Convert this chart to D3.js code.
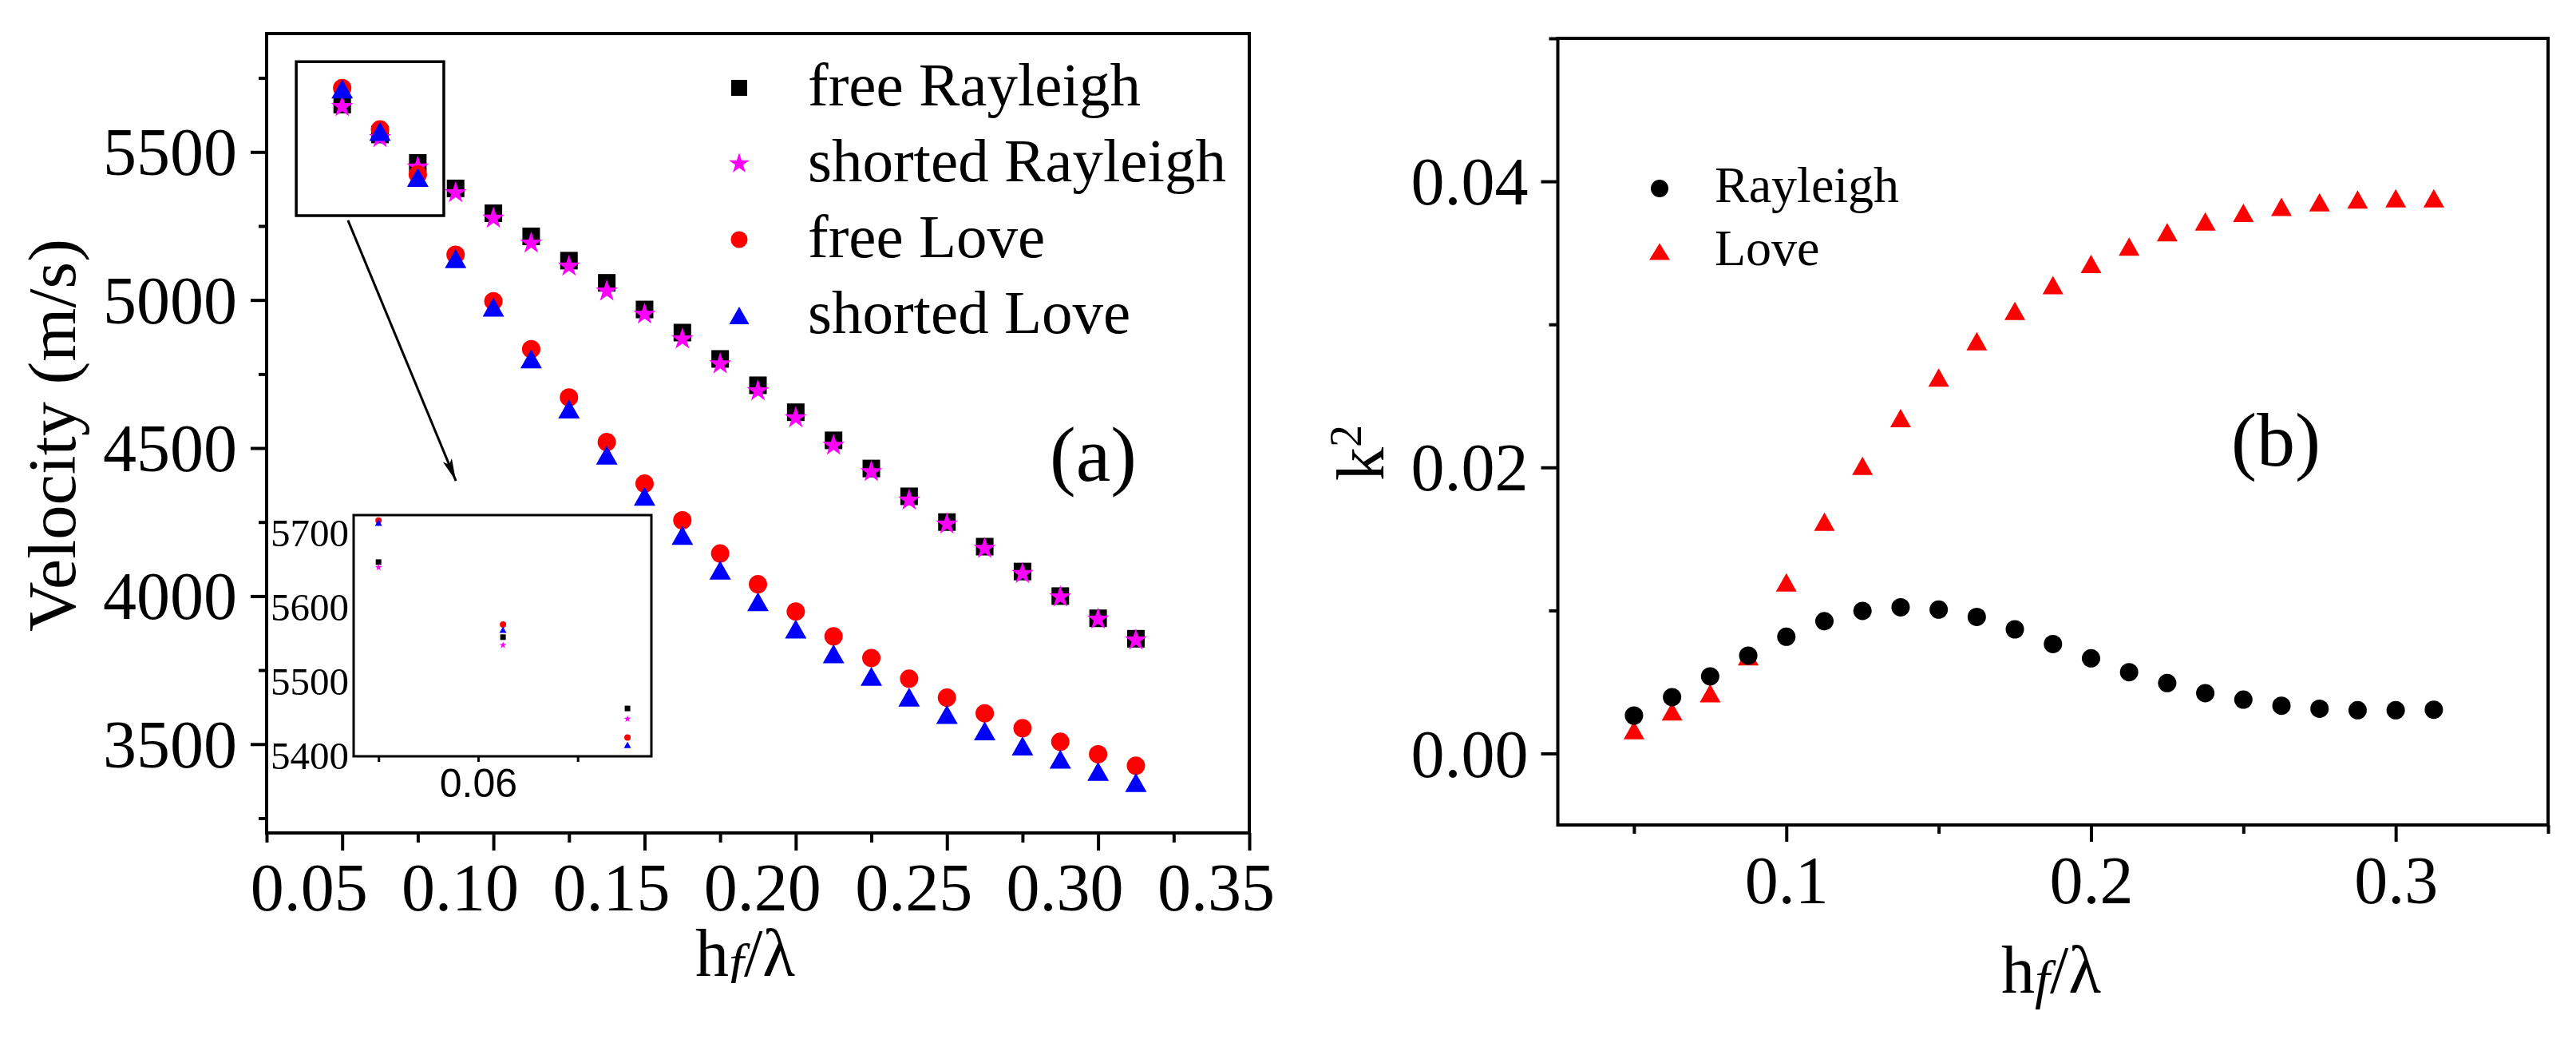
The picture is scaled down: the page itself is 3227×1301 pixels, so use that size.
<!DOCTYPE html>
<html>
<head>
<meta charset="utf-8">
<script src="https://cdn.jsdelivr.net/npm/d3@7"></script>
<style>
  html, body { margin: 0; padding: 0; background: #fff; }
  svg { display: block; }
</style>
</head>
<body>
<svg id="chart" width="3227" height="1301" font-family="Liberation Serif, Times New Roman, serif"></svg>
<script>
// hf / lambda sample points (both panels)
const hRatio = [0.05, 0.0625, 0.075, 0.0875, 0.1, 0.1125, 0.125, 0.1375, 0.15, 0.1625, 0.175,
  0.1875, 0.2, 0.2125, 0.225, 0.2375, 0.25, 0.2625, 0.275, 0.2875, 0.3, 0.3125];

// panel (a): phase velocity, m/s
const freeRayleigh = [5660, 5559, 5463, 5377, 5293, 5215, 5133, 5058, 4968, 4890, 4801,
  4712, 4621, 4526, 4431, 4337, 4250, 4167, 4083, 4000, 3925, 3856];
const shortedRayleigh = [5653, 5548, 5449, 5362, 5276, 5192, 5114, 5030, 4952, 4868, 4784,
  4693, 4602, 4509, 4420, 4324, 4243, 4161, 4076, 3997, 3922, 3851];
const freeLove = [5716, 5576, 5424, 5153, 4996, 4834, 4671, 4520, 4380, 4256, 4144,
  4040, 3948, 3864, 3791, 3721, 3657, 3604, 3554, 3508, 3466, 3427];
const shortedLove = [5713, 5569, 5414, 5140, 4976, 4801, 4632, 4476, 4337, 4205, 4088,
  3981, 3889, 3805, 3729, 3659, 3600, 3545, 3494, 3449, 3408, 3370];

// panel (b): coupling coefficient k^2
const k2Rayleigh = [0.00265, 0.00394, 0.00539, 0.00684, 0.00816, 0.00925, 0.00997, 0.01022,
  0.01006, 0.00955, 0.00868, 0.00765, 0.00665, 0.00568, 0.00492, 0.00422, 0.00376, 0.00334,
  0.00313, 0.00302, 0.00302, 0.00306];
const k2Love = [0.00163, 0.00294, 0.00422, 0.0068, 0.01196, 0.0162, 0.02011, 0.02345,
  0.02628, 0.02883, 0.03094, 0.03274, 0.03423, 0.03544, 0.03645, 0.0372, 0.0378, 0.03822,
  0.03854, 0.03873, 0.03882, 0.03882];

// ticks
const velTicks = [3500, 4000, 4500, 5000, 5500];
const velMinorTicks = [3250, 3750, 4250, 4750, 5250, 5750];
const hTicksA = [0.05, 0.10, 0.15, 0.20, 0.25, 0.30, 0.35];
const hMinorTicksA = [0.025, 0.075, 0.125, 0.175, 0.225, 0.275, 0.325];
const insetVelTicks = [5400, 5500, 5600, 5700];
const insetHTicks = [0.05, 0.06, 0.07];
const insetHLabels = [0.06];
const k2Ticks = [0, 0.02, 0.04];
const k2MinorTicks = [0.01, 0.03, 0.05];
const hTicksB = [0.1, 0.2, 0.3];
const hMinorTicksB = [0.05, 0.15, 0.25, 0.35];

const SERIF = "Liberation Serif, Times New Roman, serif";
const svg = d3.select("#chart");
svg.append("rect").attr("width", 3227).attr("height", 1301).attr("fill", "#fff");
const defs = svg.append("defs");

// marker paths, s = outer width in px
function marker(shape, s, h) {
  if (shape === "square") return d3.symbol(d3.symbolSquare, s * s)();
  if (shape === "circle") return d3.symbol(d3.symbolCircle, Math.PI * s * s / 4)();
  if (shape === "star") {
    const r = s / 1.902;
    return d3.symbol(d3.symbolStar, r * r / 0.8908130915)();
  }
  // triangle centred on its bounding box
  h = h || s * 0.88;
  return `M0,${-h / 2}L${s / 2},${h / 2}L${-s / 2},${h / 2}Z`;
}

function styleAxis(g, size, family) {
  g.attr("font-family", family || SERIF).attr("font-size", size);
  g.select(".domain").remove();
  g.selectAll("line").attr("stroke", "#000").attr("stroke-width", 4);
  g.selectAll("text").attr("fill", "#000");
}

/* ---------------- panel (a) ---------------- */
const xA = d3.scaleLinear().domain([0.025, 0.35]).range([334, 1565]);
const yA = d3.scaleLinear().domain([3200, 5900]).range([1043, 42]);

const seriesA = [
  { name: "free Rayleigh", values: freeRayleigh, shape: "square", color: "#000000", size: 22 },
  { name: "shorted Rayleigh", values: shortedRayleigh, shape: "star", color: "#ff00ff", size: 28 },
  { name: "free Love", values: freeLove, shape: "circle", color: "#ff0000", size: 23 },
  { name: "shorted Love", values: shortedLove, shape: "triangle", color: "#0000ff", size: 27 }
];

const gA = svg.append("g");

// x axis (labels sit a little left of their ticks, as in the original)
gA.append("g").attr("transform", `translate(0,${yA(3200)})`)
  .call(d3.axisBottom(xA).tickValues(hTicksA).tickSize(22).tickFormat(d3.format(".2f")))
  .call(g => styleAxis(g, 84))
  .selectAll("text").attr("y", 97).attr("dy", null).attr("x", -42);
gA.append("g").attr("transform", `translate(0,${yA(3200)})`)
  .call(d3.axisBottom(xA).tickValues(hMinorTicksA).tickSize(12).tickFormat(""))
  .call(g => styleAxis(g, 84));

// y axis
gA.append("g").attr("transform", `translate(${xA(0.025)},0)`)
  .call(d3.axisLeft(yA).tickValues(velTicks).tickSize(20).tickFormat(d3.format("d")))
  .call(g => styleAxis(g, 84))
  .selectAll("text").attr("x", -37).attr("dy", "0.34em");
gA.append("g").attr("transform", `translate(${xA(0.025)},0)`)
  .call(d3.axisLeft(yA).tickValues(velMinorTicks).tickSize(10).tickFormat(""))
  .call(g => styleAxis(g, 84));

// frame
gA.append("rect")
  .attr("x", xA(0.025)).attr("y", yA(5900))
  .attr("width", xA(0.35) - xA(0.025)).attr("height", yA(3200) - yA(5900))
  .attr("fill", "none").attr("stroke", "#000").attr("stroke-width", 4);

// points
seriesA.forEach(s => {
  gA.append("g").selectAll("path")
    .data(hRatio.map((h, i) => ({ h, v: s.values[i] })))
    .join("path")
    .attr("d", marker(s.shape, s.size))
    .attr("transform", d => `translate(${xA(d.h)},${yA(d.v)})`)
    .attr("fill", s.color);
});

// legend
seriesA.forEach((s, i) => {
  const base = 132 + i * 95;
  gA.append("path").attr("d", marker(s.shape, s.size - 2))
    .attr("transform", `translate(926,${base - 22})`).attr("fill", s.color);
  gA.append("text").attr("x", 1012).attr("y", base).attr("font-size", 77).text(s.name);
});

gA.append("text").attr("x", 1315).attr("y", 602).attr("font-size", 98).text("(a)");

// axis titles
gA.append("text")
  .attr("transform", `translate(94,545) rotate(-90)`)
  .attr("text-anchor", "middle").attr("font-size", 85)
  .attr("textLength", 492).attr("lengthAdjust", "spacingAndGlyphs")
  .text("Velocity (m/s)");

defs.append("clipPath").attr("id", "clipTitleA")
  .append("rect").attr("x", 800).attr("y", 1100).attr("width", 300).attr("height", 131);
const tA = gA.append("text").attr("x", 871).attr("y", 1222).attr("font-size", 84)
  .attr("clip-path", "url(#clipTitleA)");
tA.append("tspan").text("h");
tA.append("tspan").attr("font-size", 68).attr("font-style", "italic").attr("dy", 7).text("f");
tA.append("tspan").attr("dy", -7).text("/λ");

// zoom box + arrow
gA.append("rect")
  .attr("x", xA(0.0348)).attr("y", yA(5805))
  .attr("width", xA(0.0836) - xA(0.0348)).attr("height", yA(5285) - yA(5805))
  .attr("fill", "none").attr("stroke", "#000").attr("stroke-width", 3.5);

defs.append("marker")
  .attr("id", "arrowHead").attr("markerUnits", "userSpaceOnUse")
  .attr("viewBox", "-30 -10 32 20").attr("refX", 0).attr("refY", 0)
  .attr("markerWidth", 32).attr("markerHeight", 20).attr("orient", "auto")
  .append("path").attr("d", "M0,0L-28,-6L-22,0L-28,6Z").attr("fill", "#000");

gA.append("line")
  .attr("x1", xA(0.0519)).attr("y1", yA(5269))
  .attr("x2", xA(0.0876)).attr("y2", yA(4389))
  .attr("stroke", "#000").attr("stroke-width", 3)
  .attr("marker-end", "url(#arrowHead)");

/* ---------------- inset ---------------- */
const xI = d3.scaleLinear().domain([0.0475, 0.0774]).range([443, 816]);
const yI = d3.scaleLinear().domain([5398.6, 5723.3]).range([947, 645]);
const gI = svg.append("g");
gI.append("rect")
  .attr("x", xI.range()[0]).attr("y", yI.range()[1])
  .attr("width", xI.range()[1] - xI.range()[0]).attr("height", yI.range()[0] - yI.range()[1])
  .attr("fill", "#fff").attr("stroke", "#000").attr("stroke-width", 3);

gI.append("g").attr("transform", `translate(0,${yI.range()[0]})`)
  .call(d3.axisBottom(xI).tickValues(insetHTicks).tickSize(7)
    .tickFormat(d => insetHLabels.includes(d) ? d3.format(".2f")(d) : ""))
  .call(g => styleAxis(g, 50, "Liberation Sans, Arial, sans-serif"))
  .call(g => g.selectAll("line").attr("stroke-width", 3))
  .selectAll("text").attr("y", 51).attr("dy", null);

gI.append("g").attr("transform", `translate(${xI.range()[0]},0)`)
  .call(d3.axisLeft(yI).tickValues(insetVelTicks).tickSize(0).tickFormat(d3.format("d")))
  .call(g => styleAxis(g, 49))
  .selectAll("text").attr("x", -6).attr("dy", "0.34em");

const insetData = hRatio.filter(h => h <= xI.domain()[1]);
seriesA.forEach(s => {
  gI.append("g").selectAll("path")
    .data(insetData.map((h, i) => ({ h, v: s.values[i] })))
    .join("path")
    .attr("d", marker(s.shape, Math.round(s.size / 3)))
    .attr("transform", d => `translate(${xI(d.h)},${yI(d.v)})`)
    .attr("fill", s.color);
});

/* ---------------- panel (b) ---------------- */
const xB = d3.scaleLinear().domain([0.025, 0.35]).range([1951.5, 3192]);
const yB = d3.scaleLinear().domain([-0.005, 0.05]).range([1033, 48]);

const seriesB = [
  { name: "Love", values: k2Love, shape: "triangle", color: "#ff0000", size: 26, h: 23 },
  { name: "Rayleigh", values: k2Rayleigh, shape: "circle", color: "#000000", size: 23 }
];

const gB = svg.append("g");

gB.append("g").attr("transform", `translate(0,${yB(-0.005)})`)
  .call(d3.axisBottom(xB).tickValues(hTicksB).tickSize(21).tickFormat(d3.format(".1f")))
  .call(g => styleAxis(g, 84))
  .selectAll("text").attr("y", 98).attr("dy", null);
gB.append("g").attr("transform", `translate(0,${yB(-0.005)})`)
  .call(d3.axisBottom(xB).tickValues(hMinorTicksB).tickSize(11).tickFormat(""))
  .call(g => styleAxis(g, 84));

gB.append("g").attr("transform", `translate(${xB(0.025)},0)`)
  .call(d3.axisLeft(yB).tickValues(k2Ticks).tickSize(21).tickFormat(d3.format(".2f")))
  .call(g => styleAxis(g, 84))
  .selectAll("text").attr("x", -37).attr("dy", "0.34em");
gB.append("g").attr("transform", `translate(${xB(0.025)},0)`)
  .call(d3.axisLeft(yB).tickValues(k2MinorTicks).tickSize(11).tickFormat(""))
  .call(g => styleAxis(g, 84));

gB.append("rect")
  .attr("x", xB(0.025)).attr("y", yB(0.05))
  .attr("width", xB(0.35) - xB(0.025)).attr("height", yB(-0.005) - yB(0.05))
  .attr("fill", "none").attr("stroke", "#000").attr("stroke-width", 4);

seriesB.forEach(s => {
  gB.append("g").selectAll("path")
    .data(hRatio.map((h, i) => ({ h, v: s.values[i] })))
    .join("path")
    .attr("d", marker(s.shape, s.size, s.h))
    .attr("transform", d => `translate(${xB(d.h)},${yB(d.v)})`)
    .attr("fill", s.color);
});

// legend (Rayleigh first)
[seriesB[1], seriesB[0]].forEach((s, i) => {
  const base = 253 + i * 79;
  gB.append("path").attr("d", marker(s.shape, s.shape === "circle" ? 22 : 26, 21))
    .attr("transform", `translate(2079,${base - 17})`).attr("fill", s.color);
  gB.append("text").attr("x", 2148).attr("y", base).attr("font-size", 64).text(s.name);
});

gB.append("text").attr("x", 2795).attr("y", 583).attr("font-size", 96).text("(b)");

const kT = gB.append("text").attr("transform", "translate(1733,602) rotate(-90)")
  .attr("font-size", 84);
kT.append("tspan").text("k");
kT.append("tspan").attr("font-size", 56).attr("dy", -28).text("2");

const tB = gB.append("text").attr("x", 2507).attr("y", 1243).attr("font-size", 84);
tB.append("tspan").text("h");
tB.append("tspan").attr("font-size", 68).attr("font-style", "italic").attr("dy", 7).text("f");
tB.append("tspan").attr("dy", -7).text("/λ");
</script>
</body>
</html>
